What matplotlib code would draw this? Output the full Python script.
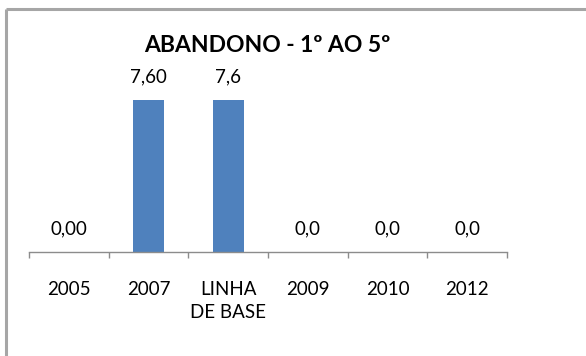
import numpy as np
import matplotlib.pyplot as plt

# Abandono escolar, 1º ao 5º ano
categorias = ["2005", "2007", "LINHA\nDE BASE", "2009", "2010", "2012"]
valores = [0.00, 7.60, 7.6, 0.0, 0.0, 0.0]
casas_decimais = [2, 2, 1, 1, 1, 1]

plt.rcParams["font.family"] = ["Lato", "DejaVu Sans"]
plt.rcParams["savefig.bbox"] = None

W, H = 586, 356
fig = plt.figure(figsize=(W / 100, H / 100), dpi=100)

# eixo de fundo em pixels, só para a moldura cinza (bordas superior e esquerda)
fundo = fig.add_axes([0, 0, 1, 1], zorder=-1)
fundo.set_xlim(0, W)
fundo.set_ylim(H, 0)
fundo.axis("off")
fundo.plot([6, W + 5], [9, 9], color="#a6a6a6", linewidth=2.2, solid_capstyle="butt")
fundo.plot([6, 6], [9, H + 5], color="#a6a6a6", linewidth=2.2, solid_capstyle="butt")

ax = fig.add_axes([29 / W, 104 / H, 478 / W, 160 / H])
ax.patch.set_alpha(0)
x = np.arange(len(categorias))
ax.bar(x, valores, width=0.39, color="#4f81bd")

for xi, v, d in zip(x, valores, casas_decimais):
    txt = f"{v:.{d}f}".replace(".", ",")
    ax.annotate(txt, (xi, v), xytext=(0, 17), textcoords="offset points",
                ha="center", va="center", fontsize=13.5, color="#000000")

ax.set_xlim(-0.5, len(categorias) - 0.5)
ax.set_ylim(0, 8)
ax.set_yticks([])
for s in ["top", "right", "left"]:
    ax.spines[s].set_visible(False)
ax.spines["bottom"].set_color("#8c8c8c")
ax.spines["bottom"].set_linewidth(1.0)

ax.set_xticks(x)
ax.set_xticklabels(categorias, fontsize=13.5, linespacing=1.4, va="top")
ax.tick_params(axis="x", which="major", length=0, pad=21)
ax.set_xticks(np.arange(-0.5, len(categorias)), minor=True)
ax.tick_params(axis="x", which="minor", length=4, color="#8c8c8c", width=1.0)

fig.text(0.5 * (147 + 388) / W, 1 - 45 / H, "ABANDONO - 1º AO 5º", ha="center", va="center",
         fontsize=16.5, fontweight="bold")

fig.savefig("out.png", dpi=100, facecolor="white", bbox_inches=None)
